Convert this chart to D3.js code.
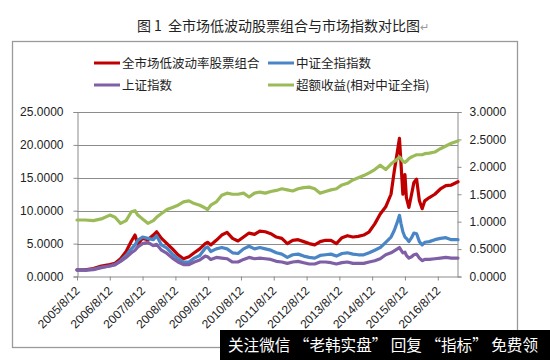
<!DOCTYPE html>
<html><head><meta charset="utf-8">
<script src="https://cdn.jsdelivr.net/npm/d3@7/dist/d3.min.js"></script>
<style>
html,body{margin:0;padding:0;background:#fff;}
svg{display:block;}
</style></head>
<body>
<script>
const dates = ["2005-08-12","2005-11-10","2006-02-10","2006-05-10","2006-08-12","2006-10-10","2006-12-10","2007-02-10","2007-04-10","2007-05-20","2007-06-20","2007-08-12","2007-10-10","2007-12-10","2008-01-15","2008-03-10","2008-05-10","2008-07-10","2008-09-10","2008-11-10","2009-01-10","2009-03-10","2009-05-10","2009-07-10","2009-08-05","2009-09-10","2009-11-10","2010-01-10","2010-03-10","2010-05-10","2010-07-10","2010-09-10","2010-11-10","2011-01-10","2011-03-10","2011-05-10","2011-07-10","2011-09-10","2011-11-10","2012-01-10","2012-03-10","2012-05-10","2012-07-10","2012-09-10","2012-11-10","2013-01-10","2013-03-10","2013-05-10","2013-07-10","2013-09-10","2013-11-10","2014-01-10","2014-03-10","2014-05-10","2014-07-10","2014-09-10","2014-11-10","2015-01-10","2015-03-10","2015-04-15","2015-05-20","2015-06-12","2015-06-30","2015-07-20","2015-08-12","2015-08-28","2015-09-25","2015-10-25","2015-11-20","2015-12-20","2016-01-20","2016-02-20","2016-03-20","2016-05-10","2016-07-10","2016-09-10","2016-11-10","2017-01-10","2017-03-25"];
const lowVol = [1.0,1.0,1.2,1.6,1.8,2.0,2.7,3.8,5.4,6.3,4.9,5.8,5.6,6.3,6.8,5.8,5.0,4.2,3.3,2.7,3.0,3.6,4.2,5.0,5.2,4.8,5.5,6.3,6.7,5.8,5.4,6.0,6.6,6.4,6.9,6.8,6.5,6.0,5.8,5.0,5.5,5.6,5.3,5.0,4.8,5.3,5.5,5.5,5.0,5.9,6.2,6.0,6.1,6.3,6.8,8.0,9.5,10.6,12.5,16.0,19.0,21.0,17.0,12.5,15.5,12.0,10.5,12.5,14.3,14.8,11.5,10.3,11.5,12.0,12.5,13.3,13.8,13.9,14.4];
const csiAll = [1.0,0.95,1.1,1.4,1.6,1.8,2.4,3.2,4.2,4.8,5.5,6.0,5.8,5.6,6.2,4.8,4.3,3.4,2.7,2.2,2.2,2.8,3.2,4.3,4.5,3.8,4.2,4.4,4.2,3.6,3.5,4.2,4.6,4.2,4.4,4.2,4.0,3.6,3.4,2.9,3.3,3.4,3.1,2.9,2.8,3.2,3.3,3.4,3.1,3.5,3.6,3.4,3.3,3.3,3.6,4.0,4.4,5.2,6.0,7.0,8.3,9.3,8.0,6.8,6.0,5.8,5.3,5.9,6.6,6.5,5.3,4.8,5.2,5.3,5.6,5.8,5.9,5.6,5.6];
const shComp = [1.0,0.95,1.05,1.35,1.6,1.8,2.3,2.9,3.6,4.0,4.5,5.0,5.2,4.7,4.9,4.0,3.5,2.8,2.2,1.8,1.8,2.2,2.5,3.1,3.0,2.6,2.9,2.8,2.7,2.2,2.2,2.6,2.9,2.7,2.8,2.7,2.6,2.3,2.2,2.0,2.2,2.3,2.1,1.9,1.9,2.2,2.2,2.1,1.9,2.1,2.2,2.0,2.0,2.0,2.2,2.4,2.7,3.3,3.6,3.9,4.2,4.4,4.0,3.6,3.7,3.2,2.8,3.0,3.3,3.4,2.8,2.4,2.6,2.6,2.7,2.8,2.9,2.8,2.8];
const excess = [1.03,1.03,1.02,1.05,1.12,1.08,0.97,1.02,1.18,1.20,1.12,1.05,0.97,1.02,1.08,1.15,1.22,1.26,1.30,1.36,1.38,1.33,1.30,1.25,1.22,1.30,1.36,1.48,1.52,1.50,1.50,1.52,1.45,1.52,1.54,1.52,1.55,1.57,1.60,1.58,1.56,1.60,1.62,1.63,1.60,1.52,1.55,1.58,1.60,1.67,1.70,1.76,1.80,1.84,1.89,1.95,2.03,1.95,2.05,2.10,2.14,2.18,2.15,2.10,2.08,2.10,2.15,2.18,2.20,2.22,2.22,2.22,2.24,2.25,2.27,2.33,2.38,2.43,2.47];
const tickDates = ["2005-08-12","2006-08-12","2007-08-12","2008-08-12","2009-08-12","2010-08-12","2011-08-12","2012-08-12","2013-08-12","2014-08-12","2015-08-12","2016-08-12"];
const leftTicks = [0,5,10,15,20,25];
const rightTicks = [0,0.5,1,1.5,2,2.5,3];
const seriesNames = ["全市场低波动率股票组合","中证全指指数","上证指数","超额收益(相对中证全指)"];
const seriesColors = ["#c00000","#4a86c6","#7f5fa5","#9bbb59"];
const titleText = "图 1 全市场低波动股票组合与市场指数对比图";

const W=550,H=360;
const svg = d3.select("body").append("svg").attr("width",W).attr("height",H);
const parse = d3.timeParse("%Y-%m-%d");
const fmt = d3.timeFormat("%Y/%-m/%-d");
const numFont = "'Liberation Sans', Arial, sans-serif";
const cjkFont = "'Noto Sans CJK SC', sans-serif";

// title
const t = svg.append("text").attr("x",283).attr("y",31).attr("text-anchor","middle")
  .attr("font-family",cjkFont).attr("font-size",14).attr("fill","#222").attr("xml:space","preserve")
  .text("图 1  全市场低波动股票组合与市场指数对比图");
t.append("tspan").attr("fill","#999").attr("font-size",11).text("↵");

// chart border
svg.append("rect").attr("x",12.5).attr("y",41.5).attr("width",505).attr("height",306)
  .attr("fill","none").attr("stroke","#9a9a9a").attr("stroke-width",1.3);

const x = d3.scaleTime().domain([parse(dates[0]), parse(dates[dates.length-1])]).range([77,458]);
const yL = d3.scaleLinear().domain([0,25]).range([276.5,112]);
const yR = d3.scaleLinear().domain([0,3]).range([276.5,112]);

// gridlines
svg.append("g").selectAll("line").data(leftTicks.filter(d=>d>0)).join("line")
  .attr("x1",77).attr("x2",458).attr("y1",d=>Math.round(yL(d))+0.5).attr("y2",d=>Math.round(yL(d))+0.5)
  .attr("stroke","#8c8c8c").attr("stroke-width",1);

// left axis
const gL = svg.append("g").attr("transform","translate(77.5,0)")
  .call(d3.axisLeft(yL).tickValues(leftTicks).tickFormat(d3.format(".4f")).tickSize(4).tickPadding(10));
// right axis
const gR = svg.append("g").attr("transform","translate(457.5,0)")
  .call(d3.axisRight(yR).tickValues(rightTicks).tickFormat(d3.format(".4f")).tickSize(4).tickPadding(8));
// bottom axis
const gB = svg.append("g").attr("transform","translate(0,276.5)")
  .call(d3.axisBottom(x).tickValues(tickDates.map(parse)).tickFormat(fmt).tickSize(4).tickSizeOuter(0));
[gL,gR,gB].forEach(g=>{
  g.select(".domain").attr("stroke","#8c8c8c");
  g.selectAll(".tick line").attr("stroke","#8c8c8c");
  g.selectAll("text").attr("font-family",numFont).attr("font-size",12).attr("fill","#222");
});
gB.selectAll(".tick text").attr("text-anchor","end").attr("dy",0).attr("y",0)
  .attr("transform","translate(3,15) rotate(-45)");

// lines
const pts = dates.map(parse);
const lineL = d3.line().x((d,i)=>x(pts[i])).y(d=>yL(d)).curve(d3.curveLinear);
const lineR = d3.line().x((d,i)=>x(pts[i])).y(d=>yR(d)).curve(d3.curveLinear);
const plotted = [[lowVol,lineL,0],[csiAll,lineL,1],[shComp,lineL,2],[excess,lineR,3]];
plotted.forEach(([vals,ln,k])=>{
  svg.append("path").attr("d",ln(vals)).attr("fill","none").attr("stroke",seriesColors[k])
    .attr("stroke-width",3.2).attr("stroke-linejoin","round").attr("stroke-linecap","round");
});

// legend
const legPos = [[94,63],[268,63],[94,85],[268,85]];
seriesNames.forEach((n,k)=>{
  const [lx,ly]=legPos[k];
  svg.append("line").attr("x1",lx).attr("x2",lx+26).attr("y1",ly).attr("y2",ly)
    .attr("stroke",seriesColors[k]).attr("stroke-width",3);
  svg.append("text").attr("x",lx+28).attr("y",ly+4.5).attr("font-family",cjkFont)
    .attr("font-size",12.5).attr("fill","#222").text(n);
});

// watermark
svg.append("rect").attr("x",220).attr("y",330).attr("width",330).attr("height",30).attr("fill","#000");
svg.append("text").attr("x",228).attr("y",351).attr("font-family",cjkFont).attr("font-size",16)
  .attr("textLength",310).attr("lengthAdjust","spacingAndGlyphs")
  .attr("fill","#fff").text("关注微信 “老韩实盘” 回复 “指标” 免费领");
</script>
</body></html>
